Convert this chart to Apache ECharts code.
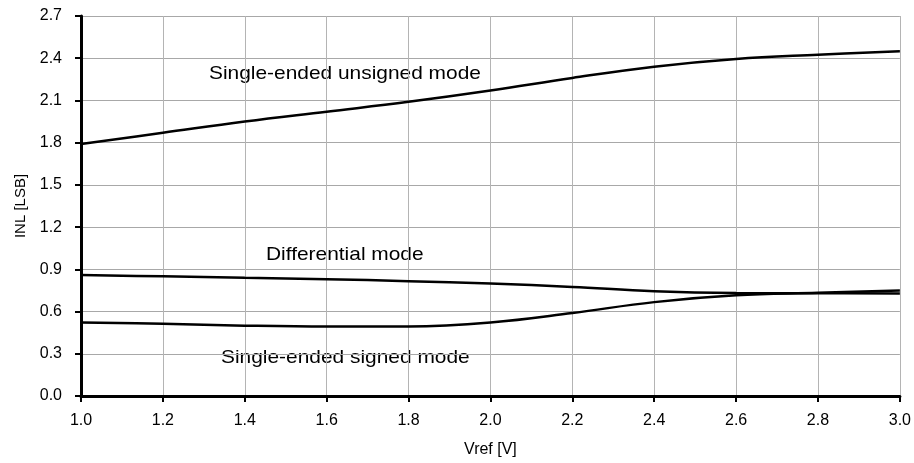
<!DOCTYPE html>
<html>
<head>
<meta charset="utf-8">
<script src="https://cdn.jsdelivr.net/npm/echarts@6/dist/echarts.min.js"></script>
<style>
  html, body { margin: 0; padding: 0; background: #fff; }
  #chart { width: 914px; height: 463px; }
</style>
</head>
<body>
<div id="chart"></div>
<script>
// Vref [V]
const vref = [1.0, 1.2, 1.4, 1.6, 1.8, 2.0, 2.2, 2.4, 2.6, 2.8, 3.0];
// INL [LSB]
const unsignedMode = [1.79, 1.87, 1.95, 2.02, 2.09, 2.17, 2.26, 2.34, 2.395, 2.425, 2.45];
const differentialMode = [0.86, 0.85, 0.84, 0.83, 0.816, 0.80, 0.775, 0.745, 0.732, 0.73, 0.728];
const signedMode = [0.523, 0.514, 0.50, 0.493, 0.494, 0.523, 0.59, 0.667, 0.715, 0.733, 0.75];

const seriesNames = ['Single-ended unsigned mode', 'Differential mode', 'Single-ended signed mode'];

const chart = echarts.init(document.getElementById('chart'));

function pairs(ys) {
  return vref.map((x, i) => [x, ys[i]]);
}

const font = 'Liberation Sans, Arial, sans-serif';

// text labels next to the curves (the source font looks a bit wide, hence scaleX)
function curveLabel(text, x, y) {
  return {
    type: 'text', x: x, y: y, scaleX: 1.1,
    style: { text: text, fill: '#000', font: '19px ' + font, align: 'left', verticalAlign: 'middle' }
  };
}

chart.setOption({
  animation: false,
  grid: { left: 81, right: 14, top: 16, bottom: 66 },
  xAxis: {
    type: 'value',
    min: 1.0,
    max: 3.0,
    interval: 0.2,
    name: 'Vref [V]',
    nameLocation: 'middle',
    nameGap: 46,
    nameTextStyle: { color: '#000', fontSize: 16, fontFamily: font },
    axisLine: { show: true, lineStyle: { color: '#000', width: 3 } },
    axisTick: { show: true, length: 6, lineStyle: { color: '#000', width: 2 } },
    axisLabel: { color: '#000', fontSize: 16, fontFamily: font, margin: 17, formatter: v => v.toFixed(1) },
    splitLine: { show: true, lineStyle: { color: '#b4b4b4', width: 1 } }
  },
  yAxis: {
    type: 'value',
    min: 0,
    max: 2.7,
    interval: 0.3,
    name: 'INL [LSB]',
    nameLocation: 'middle',
    nameGap: 53,
    nameRotate: 90,
    nameTextStyle: { color: '#000', fontSize: 15, fontFamily: font },
    axisLine: { show: true, lineStyle: { color: '#000', width: 3 } },
    axisTick: { show: true, length: 6, lineStyle: { color: '#000', width: 2 } },
    axisLabel: { color: '#000', fontSize: 16, fontFamily: font, margin: 19, formatter: v => v.toFixed(1) },
    splitLine: { show: true, lineStyle: { color: '#a8a8a8', width: 1 } }
  },
  graphic: [
    curveLabel(seriesNames[0], 209, 74),
    curveLabel(seriesNames[1], 266, 255),
    curveLabel(seriesNames[2], 221, 358)
  ],
  series: [
    { name: seriesNames[0], data: pairs(unsignedMode) },
    { name: seriesNames[1], data: pairs(differentialMode) },
    { name: seriesNames[2], data: pairs(signedMode) }
  ].map(s => Object.assign(s, {
    type: 'line',
    smooth: 0.4,
    showSymbol: false,
    lineStyle: { color: '#000', width: 2.5 }
  }))
});
</script>
</body>
</html>
